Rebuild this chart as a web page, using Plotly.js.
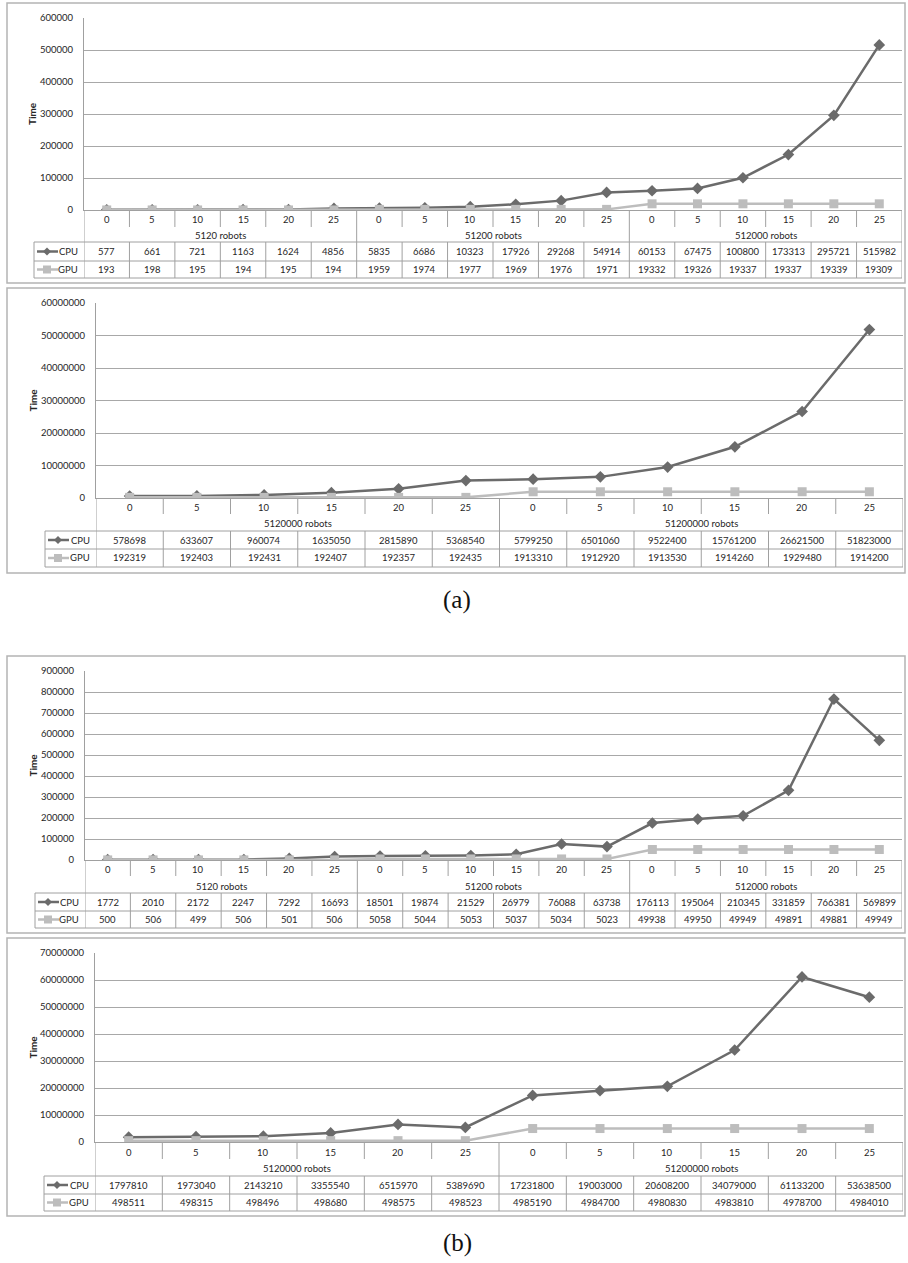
<!DOCTYPE html>
<html><head><meta charset="utf-8">
<script src="https://cdn.plot.ly/plotly-3.0.1.min.js"></script>
<style>html,body{margin:0;padding:0;background:#fff}#chart{width:908px;height:1263px}</style>
</head><body><div id="chart"></div>
<script>
// ---- data ----
const subLabels = ["0","5","10","15","20","25"];
const groupsA1 = ["5120 robots","51200 robots","512000 robots"];
const cpuA1 = [577,661,721,1163,1624,4856,5835,6686,10323,17926,29268,54914,60153,67475,100800,173313,295721,515982];
const gpuA1 = [193,198,195,194,195,194,1959,1974,1977,1969,1976,1971,19332,19326,19337,19337,19339,19309];
const groupsA2 = ["5120000 robots","51200000 robots"];
const cpuA2 = [578698,633607,960074,1635050,2815890,5368540,5799250,6501060,9522400,15761200,26621500,51823000];
const gpuA2 = [192319,192403,192431,192407,192357,192435,1913310,1912920,1913530,1914260,1929480,1914200];
const groupsB1 = ["5120 robots","51200 robots","512000 robots"];
const cpuB1 = [1772,2010,2172,2247,7292,16693,18501,19874,21529,26979,76088,63738,176113,195064,210345,331859,766381,569899];
const gpuB1 = [500,506,499,506,501,506,5058,5044,5053,5037,5034,5023,49938,49950,49949,49891,49881,49949];
const groupsB2 = ["5120000 robots","51200000 robots"];
const cpuB2 = [1797810,1973040,2143210,3355540,6515970,5389690,17231800,19003000,20608200,34079000,61133200,53638500];
const gpuB2 = [498511,498315,498496,498680,498575,498523,4985190,4984700,4980830,4983810,4978700,4984010];
const yMax = [600000, 60000000, 900000, 70000000];
const yStep = [100000, 10000000, 100000, 10000000];
const seriesNames = ["CPU","GPU"];
const captions = ["(a)","(b)"];

// ---- layout geometry (pixels) ----
const W = 908, H = 1263;
const geo = [
 {x0:84, x1:902, top:18,  zero:210,  tickBot:227,  tickY:219,  groupY:235,  cpuTop:242,  gpuTop:261,  bottom:278,  L:34, bTop:3,   bBot:283},
 {x0:96, x1:903, top:303, zero:498,  tickBot:514,  tickY:507,  groupY:523,  cpuTop:531,  gpuTop:549,  bottom:567,  L:45, bTop:288, bBot:573},
 {x0:85, x1:902, top:671, zero:860,  tickBot:876,  tickY:869,  groupY:886,  cpuTop:893,  gpuTop:911,  bottom:928,  L:35, bTop:656, bBot:933},
 {x0:95, x1:903, top:953, zero:1142, tickBot:1159, tickY:1152, groupY:1168, cpuTop:1176, gpuTop:1194, bottom:1211, L:44, bTop:938, bBot:1216}
];
const captionY = [600, 1243];
const panelsData = [
 {cpu:cpuA1, gpu:gpuA1, groups:groupsA1},
 {cpu:cpuA2, gpu:gpuA2, groups:groupsA2},
 {cpu:cpuB1, gpu:gpuB1, groups:groupsB1},
 {cpu:cpuB2, gpu:gpuB2, groups:groupsB2}
];

const CPU_COL = '#6b6b6b', GPU_COL = '#bdbdbd', GRID = '#a8a8a8', TBL = '#a0a0a0', TXT = '#262626';
const FONT = 'Lato, "Open Sans", sans-serif';
const py = p => 1 - p / H;
const pxp = p => p / W;

const traces = [], shapes = [], annotations = [];
const layout = {
  width: W, height: H, margin: {l:0, r:0, t:0, b:0},
  paper_bgcolor: '#fff', plot_bgcolor: '#fff', showlegend: false,
  font: {family: FONT, size: 9.5, color: TXT}
};

panelsData.forEach((pd, k) => {
  const g = geo[k];
  const n = pd.cpu.length;
  const idx = pd.cpu.map((_, i) => i);
  const sfx = k === 0 ? '' : String(k + 1);
  const xa = 'x' + sfx, ya = 'y' + sfx;
  layout['xaxis' + sfx] = {
    domain: [pxp(g.x0), pxp(g.x1)], range: [-0.5, n - 0.5], anchor: ya,
    showgrid: false, zeroline: false, showticklabels: false, ticks: '',
    showline: true, linecolor: TBL, linewidth: 1, fixedrange: true
  };
  layout['yaxis' + sfx] = {
    domain: [py(g.zero), py(g.top)], range: [0, yMax[k]], anchor: xa,
    dtick: yStep[k], tick0: 0, tickformat: 'd', showgrid: true, gridcolor: GRID, gridwidth: 1,
    zeroline: false, showline: true, linecolor: TBL, linewidth: 1, ticks: '',
    ticklabelstandoff: 8, tickfont: {family: FONT, size: 9.5, color: TXT}, fixedrange: true
  };
  traces.push({
    x: idx, y: pd.cpu, xaxis: xa, yaxis: ya, type: 'scatter', mode: 'lines+markers', name: seriesNames[0],
    line: {color: CPU_COL, width: 2.5}, marker: {symbol: 'diamond', size: 9, color: CPU_COL}
  });
  traces.push({
    x: idx, y: pd.gpu, xaxis: xa, yaxis: ya, type: 'scatter', mode: 'lines+markers', name: seriesNames[1],
    line: {color: GPU_COL, width: 2.5}, marker: {symbol: 'square', size: 9, color: GPU_COL}
  });

  // panel border
  shapes.push({type:'rect', xref:'paper', yref:'paper', x0:pxp(7), x1:pxp(905), y0:py(g.bBot), y1:py(g.bTop),
    line:{color:'#b4b4b4', width:1.5}, layer:'below'});

  // "Time" axis title
  annotations.push({xref:'paper', yref:'paper', x:pxp(32), y:py((g.top + g.zero) / 2), text:'<b>Time</b>',
    textangle:-90, showarrow:false, font:{family:FONT, size:10, color:TXT}, xanchor:'center', yanchor:'middle'});

  const ln = (xr, x0, x1, y0, y1) => shapes.push({type:'line', xref:xr, yref:'paper', x0:x0, x1:x1, y0:py(y0), y1:py(y1),
    line:{color:TBL, width:1}});

  // category separators
  const gsz = subLabels.length;
  for (let i = 0; i <= n; i++) {
    const xb = i - 0.5;
    if (i === 0 || i === n || i % gsz === 0) ln(xa, xb, xb, g.zero, g.bottom);
    else { ln(xa, xb, xb, g.zero, g.tickBot); ln(xa, xb, xb, g.cpuTop, g.bottom); }
  }
  // horizontal rows
  [g.cpuTop, g.gpuTop, g.bottom].forEach(yy => ln('paper', pxp(g.L), pxp(g.x1), yy, yy));
  ln('paper', pxp(g.L), pxp(g.L), g.cpuTop, g.bottom);

  // tick and group labels
  idx.forEach(i => {
    annotations.push({xref:xa, yref:'paper', x:i, y:py(g.tickY), text:subLabels[i % gsz], showarrow:false,
      xanchor:'center', yanchor:'middle', font:{family:FONT, size:9.5, color:TXT}});
    annotations.push({xref:xa, yref:'paper', x:i, y:py((g.cpuTop + g.gpuTop) / 2), text:String(pd.cpu[i]), showarrow:false,
      xanchor:'center', yanchor:'middle', font:{family:FONT, size:9.5, color:TXT}});
    annotations.push({xref:xa, yref:'paper', x:i, y:py((g.gpuTop + g.bottom) / 2), text:String(pd.gpu[i]), showarrow:false,
      xanchor:'center', yanchor:'middle', font:{family:FONT, size:9.5, color:TXT}});
  });
  pd.groups.forEach((gl, j) => {
    annotations.push({xref:xa, yref:'paper', x:j * gsz + (gsz - 1) / 2, y:py(g.groupY), text:gl, showarrow:false,
      xanchor:'center', yanchor:'middle', font:{family:FONT, size:9.5, color:TXT}});
  });

  // legend keys in table
  [[g.cpuTop, g.gpuTop, CPU_COL, 'diamond'], [g.gpuTop, g.bottom, GPU_COL, 'square']].forEach((r, s) => {
    const cy = (r[0] + r[1]) / 2, cx = g.L + 13;
    shapes.push({type:'line', xref:'paper', yref:'paper', x0:pxp(g.L + 3), x1:pxp(g.L + 24), y0:py(cy), y1:py(cy),
      line:{color:r[2], width:2.5}});
    let path;
    if (r[3] === 'diamond') {
      path = `M ${pxp(cx)},${py(cy - 4)} L ${pxp(cx + 4)},${py(cy)} L ${pxp(cx)},${py(cy + 4)} L ${pxp(cx - 4)},${py(cy)} Z`;
    } else {
      path = `M ${pxp(cx - 4)},${py(cy - 4)} L ${pxp(cx + 4)},${py(cy - 4)} L ${pxp(cx + 4)},${py(cy + 4)} L ${pxp(cx - 4)},${py(cy + 4)} Z`;
    }
    shapes.push({type:'path', xref:'paper', yref:'paper', path:path, fillcolor:r[2], line:{color:r[2], width:0}});
    annotations.push({xref:'paper', yref:'paper', x:pxp(g.x0 - 4), y:py(cy), text:seriesNames[s], showarrow:false,
      xanchor:'right', yanchor:'middle', font:{family:FONT, size:9.5, color:TXT}});
  });
});

captions.forEach((c, i) => {
  annotations.push({xref:'paper', yref:'paper', x:pxp(457), y:py(captionY[i]), text:c, showarrow:false,
    xanchor:'center', yanchor:'middle', font:{family:'"Liberation Serif", "DejaVu Serif", serif', size:25, color:'#111'}});
});

layout.shapes = shapes;
layout.annotations = annotations;
Plotly.newPlot('chart', traces, layout, {staticPlot: true, displayModeBar: false});
</script>
</body></html>
